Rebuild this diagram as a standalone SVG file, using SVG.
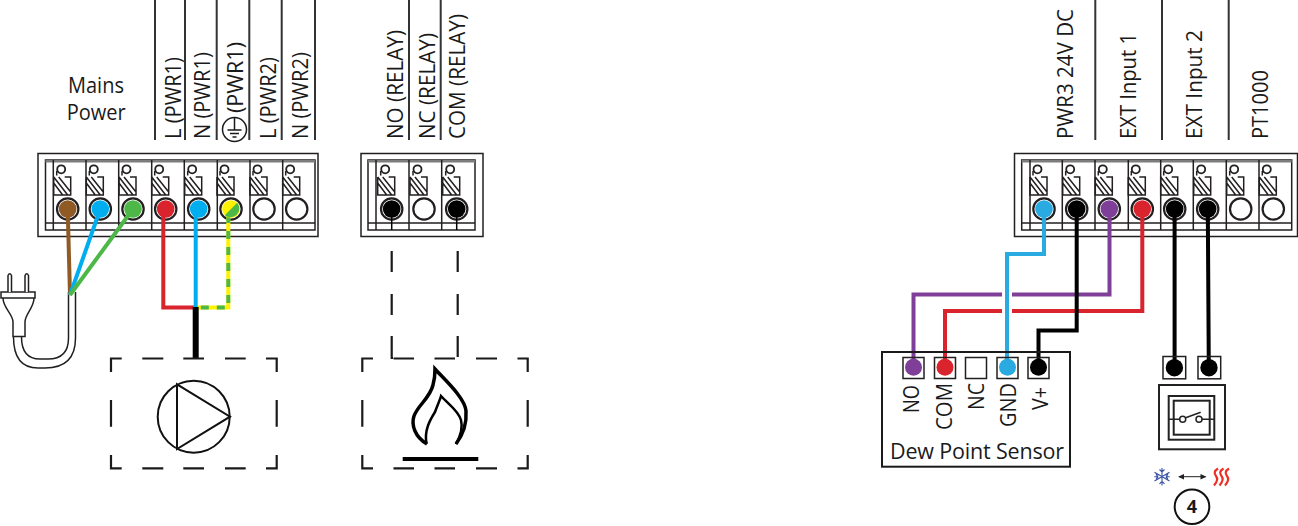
<svg xmlns="http://www.w3.org/2000/svg" width="1298" height="526" viewBox="0 0 1298 526">
<style>
text{font-family:"Open Sans","Noto Sans","Liberation Sans",sans-serif;font-size:21.5px;fill:#1a1a1a}
.o{fill:none;stroke:#231f20;stroke-width:1.5}
.band{fill:#7d7d7d}
.tl{stroke:#333;stroke-width:2;fill:none}
.dash{fill:none;stroke:#1a1a1a;stroke-width:2.2}
.w{fill:none;stroke-width:4;stroke-linejoin:miter}
.k{stroke:#000}
.ring{fill:#fff;stroke:#231f20;stroke-width:2.2}
</style>
<defs>
<g id="screw">
<circle cx="-6.500" cy="-39.700" r="4" fill="#fff" stroke="#231f20" stroke-width="1.800"/>
<path d="M-11 -33.500 L-11 -38 M-14 -32 V-14 H3 V-32 H-3 M-14 -32 L0 -14 M-14 -26 L-5 -14 M-9 -32 L3 -17" fill="none" stroke="#231f20" stroke-width="1.500"/>
<circle r="10.700" class="ring"/>
</g>
</defs>

<g id="top-leads">
<path class="tl" d="M155 0V140M185 0V140M216.700 0V140M249.300 0V140M281.700 0V140M315 0V140M409 0V140M440.700 0V140M1095.300 0V140M1162 0V140M1228.700 0V140"/>
</g>

<g id="labels">
<text x="68" y="93" textLength="56" lengthAdjust="spacingAndGlyphs">Mains</text>
<text x="66.700" y="120" textLength="59" lengthAdjust="spacingAndGlyphs">Power</text>
<text transform="translate(180.500 139) rotate(-90)" textLength="82" lengthAdjust="spacingAndGlyphs">L (PWR1)</text>
<text transform="translate(210 139) rotate(-90)" textLength="87" lengthAdjust="spacingAndGlyphs">N (PWR1)</text>
<circle cx="234.500" cy="129.500" r="12" fill="none" stroke="#1a1a1a" stroke-width="1.500"/>
<path d="M234.500 118V130M227.500 130H241.500M230 133.500H239M232.500 137H236.500" fill="none" stroke="#1a1a1a" stroke-width="1.500"/>
<text transform="translate(243 113) rotate(-90)" textLength="71" lengthAdjust="spacingAndGlyphs">(PWR1)</text>
<text transform="translate(276 139) rotate(-90)" textLength="82" lengthAdjust="spacingAndGlyphs">L (PWR2)</text>
<text transform="translate(308 139) rotate(-90)" textLength="87" lengthAdjust="spacingAndGlyphs">N (PWR2)</text>
<text transform="translate(403 139) rotate(-90)" textLength="109" lengthAdjust="spacingAndGlyphs">NO (RELAY)</text>
<text transform="translate(435 139) rotate(-90)" textLength="106" lengthAdjust="spacingAndGlyphs">NC (RELAY)</text>
<text transform="translate(465 139) rotate(-90)" textLength="125" lengthAdjust="spacingAndGlyphs">COM (RELAY)</text>
<text transform="translate(1073 139) rotate(-90)" textLength="130" lengthAdjust="spacingAndGlyphs">PWR3 24V DC</text>
<text transform="translate(1136 139) rotate(-90)" textLength="106" lengthAdjust="spacingAndGlyphs">EXT Input 1</text>
<text transform="translate(1202 139) rotate(-90)" textLength="109" lengthAdjust="spacingAndGlyphs">EXT Input 2</text>
<text transform="translate(1268 139) rotate(-90)" textLength="69" lengthAdjust="spacingAndGlyphs">PT1000</text>
</g>

<g id="block-mains">
<rect class="o" x="38" y="153.500" width="280" height="83"/>
<rect class="o" x="45.500" y="160" width="269.500" height="70"/>
<rect class="band" x="45.500" y="160" width="269.500" height="2.500"/>
<path class="o" d="M45.500 223H315M53.300 160V230M86 160V230M118.700 160V230M151.700 160V230M184.300 160V230M217.300 160V230M250 160V230M282.700 160V230"/>
<use href="#screw" x="67.700" y="209"/><use href="#screw" x="100.300" y="209"/><use href="#screw" x="133" y="209"/><use href="#screw" x="165.700" y="209"/><use href="#screw" x="198.700" y="209"/><use href="#screw" x="231" y="209"/><use href="#screw" x="264" y="209"/><use href="#screw" x="296.700" y="209"/>
</g>

<g id="block-relay">
<rect class="o" x="361" y="153.500" width="122" height="83"/>
<rect class="o" x="368" y="160" width="107" height="70"/>
<rect class="band" x="368" y="160" width="107" height="2.500"/>
<path class="o" d="M368 223H475M376 160V230M409 160V230M441.700 160V230"/>
<use href="#screw" x="391.700" y="209"/><use href="#screw" x="424" y="209"/><use href="#screw" x="456.700" y="209"/>
</g>

<g id="block-right">
<rect class="o" x="1014.500" y="153.500" width="283" height="83"/>
<rect class="o" x="1021.700" y="160" width="270" height="70"/>
<rect class="band" x="1021.700" y="160" width="270" height="2.500"/>
<path class="o" d="M1021.700 223H1291.700M1030 160V230M1062.300 160V230M1095 160V230M1128.300 160V230M1160.700 160V230M1193.300 160V230M1226.300 160V230M1259 160V230"/>
<use href="#screw" x="1044" y="209"/><use href="#screw" x="1076.700" y="209"/><use href="#screw" x="1109.300" y="209"/><use href="#screw" x="1142.300" y="209"/><use href="#screw" x="1174.700" y="209"/><use href="#screw" x="1207.700" y="209"/><use href="#screw" x="1240.700" y="209"/><use href="#screw" x="1273.300" y="209"/>
</g>

<g id="plug">
<path d="M75.500 292V338Q75.500 368 45 368H38Q13.500 368 13.500 337M68.500 292V338Q68.500 359 48 359H40Q21.500 359 21.500 337" fill="none" stroke="#231f20" stroke-width="1.500"/>
<path d="M1 292H35V298H1Z M3 298C3 308 13 314 13 322V336.500H25V322C25 314 34 308 34 298" fill="#fff" stroke="#231f20" stroke-width="1.500"/>
<path d="M8 292V275.500Q9.700 272 11.500 275.500V292M25 292V275.500Q26.700 272 28.500 275.500V292" fill="#fff" stroke="#231f20" stroke-width="1.500"/>
</g>

<g id="connectors">
<path class="w" stroke="#8f5a24" d="M67.700 209L70 295"/>
<path class="w" stroke="#00aeef" d="M100.300 209L70 295"/>
<path class="w" stroke="#4db848" d="M133 209L70 295"/>
<circle cx="67.700" cy="209" r="8.800" fill="#8f5a24"/><circle cx="100.300" cy="209" r="8.800" fill="#00aeef"/><circle cx="133" cy="209" r="8.800" fill="#4db848"/>
<path class="w" stroke="#d9232d" d="M163.300 209V307.500H196"/>
<circle cx="165.700" cy="209" r="8.800" fill="#d9232d"/>
<path class="w" stroke="#fff200" d="M228.300 209V307.500H196"/>
<path class="w" stroke="#4db848" stroke-dasharray="8 8" d="M228.300 215V307.500H196"/>
<circle cx="231" cy="209" r="8.800" fill="#fff200"/>
<path d="M237.200 202.800A8.800 8.800 0 0 1 224.800 215.200Z" fill="#4db848"/>
<path class="w" stroke="#00aeef" d="M195.700 209V308"/>
<circle cx="198.700" cy="209" r="8.800" fill="#00aeef"/>
<path d="M195.700 307V358" stroke="#000" stroke-width="6" fill="none"/>

<path d="M391.700 209V230M456.700 209V230" stroke="#000" stroke-width="1.500" fill="none"/>
<circle cx="391.700" cy="209" r="8.800" fill="#000"/><circle cx="456.700" cy="209" r="8.800" fill="#000"/>
<path class="dash" d="M391.700 251V272M391.700 294V315M391.700 336V358H393M457.700 251V272M457.700 294V315M457.700 336V357"/>

<path class="w" stroke="#7f3f98" d="M1109.500 209V294.500H1012M1002 294.500H913.500V367"/>
<path class="w" stroke="#d9232d" d="M1142.300 209V311H1012M1002 311H945V367"/>
<path class="w" stroke="#29abe2" d="M1044 209V254H1007V367"/>
<path class="w k" d="M1076.700 209V330.500H1038.500V367"/>
<path class="w k" d="M1174.600 209V367M1207.800 209L1208.800 367"/>
<circle cx="1044" cy="209" r="8.800" fill="#29abe2"/><circle cx="1076.700" cy="209" r="8.800" fill="#000"/><circle cx="1109.300" cy="209" r="8.800" fill="#7f3f98"/><circle cx="1142.300" cy="209" r="8.800" fill="#d9232d"/><circle cx="1174.700" cy="209" r="8.800" fill="#000"/><circle cx="1207.700" cy="209" r="8.800" fill="#000"/>
</g>

<g id="pump">
<path class="dash" d="M111 372V358.500H121.700M142.300 358.500H163.300M183.300 358.500H204M225 358.500H245.700M266 358.500H276.700V372M276.700 400V426.700M276.700 455V468.300H266M245.700 468.300H225M204 468.300H183.300M163.300 468.300H142.300M121.700 468.300H111V455M111 426.700V400"/>
<circle cx="193.700" cy="416.700" r="36" fill="none" stroke="#111" stroke-width="2"/>
<path d="M177 384.300V449L230 416.700Z" fill="none" stroke="#111" stroke-width="2"/>
</g>

<g id="burner">
<path class="dash" d="M362.300 372V358.500H373M393.500 358.500H414M434.500 358.500H455M476 358.500H497M517.500 358.500H527.700V372M527.700 400V426.700M527.700 455V468.300H517.500M497 468.300H476M455 468.300H434.500M414 468.300H393.500M373 468.300H362.300V455M362.300 426.700V400"/>
<path d="M427 444C415 437 411 425 414 416C418 405 430 398 433 385C435 378 435 372 435 369C445 380 465 398 466 411C467 425 462 436 456 444" fill="none" stroke="#000" stroke-width="3.500"/>
<path d="M426.500 444C424 430 430 420 435 412C437 406 440 400 441 396C448 404 458 410 461 420C463 428 460 437 456 444" fill="none" stroke="#000" stroke-width="2.500"/>
<rect x="402.700" y="457" width="75.600" height="4" fill="#000"/>
</g>

<g id="sensor">
<rect x="882" y="352" width="188" height="114.700" fill="none" stroke="#1a1a1a" stroke-width="2"/>
<rect class="o" x="903" y="357.500" width="21" height="21"/><rect class="o" x="934.500" y="357.500" width="21" height="21"/><rect class="o" x="965.500" y="357.500" width="21" height="21"/><rect class="o" x="997" y="357.500" width="21" height="21"/><rect class="o" x="1028" y="357.500" width="21" height="21"/>
<circle cx="913.500" cy="367.300" r="8.500" fill="#7f3f98"/><circle cx="945" cy="367.300" r="8.500" fill="#d9232d"/><circle cx="1007.500" cy="367.300" r="8.500" fill="#29abe2"/><circle cx="1038.500" cy="367.300" r="8.500" fill="#000"/>
<text transform="translate(919.300 413) rotate(-90)" textLength="28" lengthAdjust="spacingAndGlyphs">NO</text>
<text transform="translate(951.700 430) rotate(-90)" textLength="47" lengthAdjust="spacingAndGlyphs">COM</text>
<text transform="translate(984 410) rotate(-90)" textLength="27" lengthAdjust="spacingAndGlyphs">NC</text>
<text transform="translate(1016 427) rotate(-90)" textLength="44" lengthAdjust="spacingAndGlyphs">GND</text>
<text transform="translate(1048 410) rotate(-90)" textLength="23" lengthAdjust="spacingAndGlyphs">V+</text>
<text x="890" y="458.500" textLength="174">Dew Point Sensor</text>
</g>

<g id="switch">
<rect class="o" x="1163" y="356.500" width="22.700" height="22.300"/><rect class="o" x="1198" y="356.500" width="22.700" height="22.300"/>
<circle cx="1174.400" cy="367.700" r="8.700" fill="#000"/><circle cx="1209" cy="367.700" r="8.700" fill="#000"/>
<rect x="1159" y="385" width="66" height="64.300" fill="none" stroke="#222" stroke-width="2"/>
<rect x="1168.700" y="396" width="45.600" height="43.700" fill="none" stroke="#222" stroke-width="2"/>
<rect x="1173.700" y="400.700" width="36" height="34" fill="none" stroke="#222" stroke-width="2"/>
<path d="M1168.700 419.300H1179.700M1202 419.300H1214.300M1185 418L1200.700 412.300" fill="none" stroke="#222" stroke-width="1.500"/>
<circle cx="1182.700" cy="419.300" r="3" fill="#fff" stroke="#222" stroke-width="1.500"/><circle cx="1199" cy="419.300" r="3" fill="#fff" stroke="#222" stroke-width="1.500"/>
</g>

<g id="mode-icons">
<path d="M1162 468V485.400M1154.500 472.350L1169.500 481.050M1154.500 481.050L1169.500 472.350M1159.500 469.500L1162 472L1164.500 469.500M1159.500 483.900L1162 481.400L1164.500 483.900M1154.300 476.700H1157.500M1166.500 476.700H1169.700M1156 473.500L1158 478M1168 473.500L1166 478M1156 480L1158 475.500M1168 480L1166 475.500" fill="none" stroke="#3a53a4" stroke-width="1.100"/>
<path d="M1179 476.700H1205.500" stroke="#222" stroke-width="1" fill="none"/>
<path d="M1178 476.700L1184 474V479.400ZM1206.500 476.700L1200.500 474V479.400Z" fill="#222"/>
<path d="M1218 468.500C1214 471 1214 473.500 1216 476C1218 478.500 1218 481 1214 485.500M1223.500 468.500C1219.500 471 1219.500 473.500 1221.500 476C1223.500 478.500 1223.500 481 1219.500 485.500M1229 468.500C1225 471 1225 473.500 1227 476C1229 478.500 1229 481 1225 485.500" fill="none" stroke="#ee2e24" stroke-width="2.200"/>
<circle cx="1192" cy="506.700" r="17.300" fill="none" stroke="#111" stroke-width="2"/>
<text x="1192" y="513" text-anchor="middle" style="font-weight:700;font-size:18px">4</text>
</g>
</svg>
